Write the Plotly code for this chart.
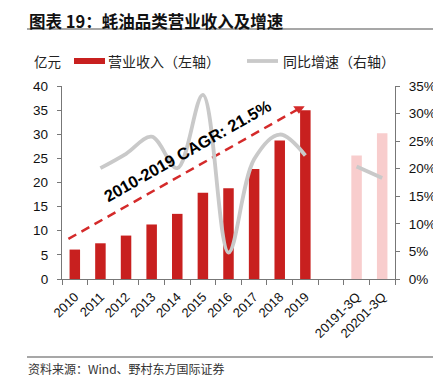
import plotly.graph_objects as go

categories = ["2010", "2011", "2012", "2013", "2014", "2015", "2016", "2017", "2018", "2019",
              "", "20191-3Q", "20201-3Q"]
revenue = [6.1, 7.4, 9.0, 11.3, 13.5, 17.9, 18.8, 22.8, 28.7, 35.0, None, 25.6, 30.2]
growth = [None, 0.201, 0.227, 0.258, 0.201, 0.334, 0.048, 0.217, 0.262, 0.224, None, 0.204, 0.183]
bar_colors = ["#C8201F"] * 10 + ["#FFFFFF", "#F8CDCD", "#F8CDCD"]
y_left_ticks = [0, 5, 10, 15, 20, 25, 30, 35, 40]
y_right_ticks = [0, 0.05, 0.10, 0.15, 0.20, 0.25, 0.30, 0.35]
cagr_start = (-0.25, 8.3)
cagr_end = (8.75, 35.3)

xs = list(range(len(categories)))
FONT = "Liberation Sans, Arial, sans-serif"
CJK = "Noto Sans CJK SC"

# page has an 8px body margin; work in window coordinates and shift
OFF = 8
W, H = 441 - OFF, 386 - OFF
L, R, T, B = 62 - OFF, 46, 86 - OFF, 107

fig = go.Figure()
fig.add_trace(go.Bar(x=xs, y=revenue, marker=dict(color=bar_colors, line=dict(width=0)),
                     width=0.41, showlegend=False, yaxis="y"))
fig.add_trace(go.Scatter(x=xs, y=growth, mode="lines", yaxis="y2",
                         line=dict(color="#C9C9C9", width=3.8, shape="spline", smoothing=1.0),
                         connectgaps=False, showlegend=False))
# CAGR dashed arrow
fig.add_trace(go.Scatter(x=[cagr_start[0], cagr_end[0]], y=[cagr_start[1], cagr_end[1]],
                         mode="lines", line=dict(color="#D42A2A", width=2.5, dash="9px,6px"),
                         showlegend=False, yaxis="y"))
fig.add_trace(go.Scatter(x=[cagr_end[0]], y=[cagr_end[1]], mode="markers",
                         marker=dict(symbol="triangle-down", size=10, color="#D42A2A"),
                         showlegend=False, yaxis="y"))

axis_col = "#777"
fig.update_layout(
    width=W, height=H,
    margin=dict(l=L, r=R, t=T, b=B, autoexpand=False),
    paper_bgcolor="white", plot_bgcolor="white",
    font=dict(family=FONT, size=12, color="#222"),
    xaxis=dict(range=[-0.5, 12.5], tickvals=xs, ticktext=categories, tickangle=-45,
               ticks="", showgrid=False, zeroline=False, showline=True, automargin=False,
               linecolor=axis_col, linewidth=1.3, tickfont=dict(size=13, color="#111"),
               ticklabelstandoff=4,
               minor=dict(tickvals=[i - 0.5 for i in range(len(categories) + 1)],
                          ticks="outside", ticklen=5, tickcolor=axis_col, tickwidth=1.3)),
    yaxis=dict(range=[0, 40], tickvals=y_left_ticks, ticks="outside", ticklen=4,
               tickcolor=axis_col, showgrid=False, zeroline=False, showline=True,
               automargin=False, ticklabelstandoff=6,
               linecolor=axis_col, linewidth=1.3, tickfont=dict(size=13.5, color="#111")),
    yaxis2=dict(range=[0, 0.35], tickvals=y_right_ticks, tickformat=".0%", overlaying="y",
                side="right", ticks="outside", ticklen=4, tickcolor=axis_col,
                showgrid=False, zeroline=False, showline=True, linecolor=axis_col,
                automargin=False, ticklabelstandoff=6,
                linewidth=1.3, tickfont=dict(size=13.5, color="#111")),
)


def px(x):
    return (x - OFF - L) / (W - L - R)


def py(y):
    return (H - B - (y - OFF)) / (H - T - B)


shapes = [
    dict(type="line", xref="paper", yref="paper", x0=px(27), x1=px(441), y0=py(29), y1=py(29),
         line=dict(color="#8A8A8A", width=1.5)),
    dict(type="line", xref="paper", yref="paper", x0=px(27), x1=px(441), y0=py(357), y1=py(357),
         line=dict(color="#8A8A8A", width=1.5)),
    dict(type="rect", xref="paper", yref="paper", x0=px(74), x1=px(105), y0=py(64), y1=py(58),
         fillcolor="#C8201F", line=dict(width=0)),
    dict(type="line", xref="paper", yref="paper", x0=px(247), x1=px(278), y0=py(61), y1=py(61),
         line=dict(color="#C9C9C9", width=3.8)),
]
fig.update_layout(shapes=shapes)

annotations = [
    dict(text="<b>图表 19：蚝油品类营业收入及增速</b>", xref="paper", yref="paper",
         x=px(28), y=py(OFF), xanchor="left", yanchor="top", showarrow=False,
         borderpad=0, font=dict(family=CJK, size=16.5, color="#111")),
    dict(text="亿元", xref="paper", yref="paper", x=px(32), y=py(61), xanchor="left",
         yanchor="middle", showarrow=False, font=dict(family=CJK, size=13.5, color="#222")),
    dict(text="营业收入（左轴）", xref="paper", yref="paper", x=px(106), y=py(61), xanchor="left",
         yanchor="middle", showarrow=False, font=dict(family=CJK, size=14, color="#222")),
    dict(text="同比增速（右轴）", xref="paper", yref="paper", x=px(281), y=py(61), xanchor="left",
         yanchor="middle", showarrow=False, font=dict(family=CJK, size=14, color="#222")),
    dict(text="资料来源：Wind、野村东方国际证券", xref="paper", yref="paper", x=px(26), y=py(368),
         xanchor="left", yanchor="middle", showarrow=False,
         font=dict(family=CJK, size=12, color="#333")),
    dict(text="<b>2010-2019 CAGR: 21.5%</b>", xref="paper", yref="paper", x=px(187), y=py(151),
         xanchor="center", yanchor="middle", showarrow=False, textangle=-29.5,
         font=dict(family=FONT, size=16.5, color="#000")),
]
fig.update_layout(annotations=annotations)

fig.write_html("out.html")
